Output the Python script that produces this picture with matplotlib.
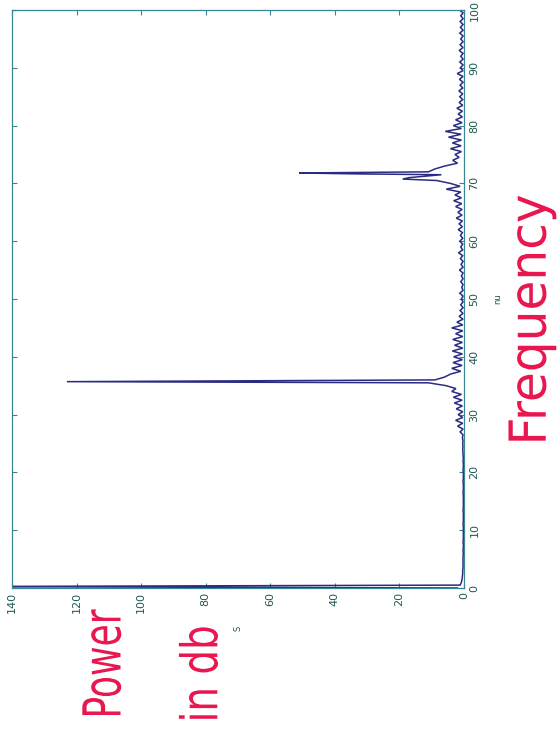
import numpy as np
import matplotlib
matplotlib.use("Agg")
import matplotlib.pyplot as plt
from matplotlib.patheffects import AbstractPathEffect
from matplotlib.transforms import Affine2D

# Power spectrum sampled every 0.5 in nu (0 .. 100), values in dB
nu_step = 0.5
noise_db = [
    # nu 0 - 9.5
    2.0, 1.2, 0.8, 0.6, 0.5, 0.4, 0.4, 0.3, 0.3, 0.3, 0.3, 0.3, 0.2, 0.3, 0.2, 0.2, 0.3, 0.2, 0.2, 0.2,
    # nu 10 - 19.5
    0.2, 0.2, 0.3, 0.2, 0.2, 0.2, 0.2, 0.3, 0.2, 0.2, 0.2, 0.2, 0.2, 0.3, 0.2, 0.2, 0.2, 0.3, 0.2, 0.2,
    # nu 20 - 29.5
    0.2, 0.3, 0.2, 0.2, 0.3, 0.2, 0.3, 0.3, 0.4, 0.3, 0.4, 0.3, 0.5, 0.3, 1.2, 0.3, 2.0, 0.4, 2.6, 0.4,
    # nu 30 - 39.5
    1.8, 0.4, 2.4, 0.5, 3.0, 0.6, 3.3, 0.8, 3.8, 2.5, 5.5, 11.0, 9.0, 6.0, 4.2, 1.0, 3.8, 0.6, 3.4, 0.5,
    # nu 40 - 49.5
    3.2, 0.5, 3.6, 0.4, 2.9, 0.5, 3.5, 0.4, 2.6, 0.4, 3.8, 0.4, 2.2, 0.3, 1.5, 0.3, 1.2, 0.3, 1.0, 0.3,
    # nu 50 - 59.5
    0.8, 0.3, 1.3, 0.3, 0.7, 0.3, 1.0, 0.3, 0.8, 0.3, 1.4, 0.3, 0.9, 0.3, 1.1, 0.4, 1.7, 0.4, 1.0, 0.4,
    # nu 60 - 69.5
    1.3, 0.4, 1.1, 0.5, 1.8, 0.5, 1.5, 0.5, 2.4, 0.6, 1.9, 0.6, 2.6, 0.7, 3.2, 0.8, 2.8, 1.0, 5.5, 1.2,
    # nu 70 - 79.5
    4.2, 8.5, 17.0, 7.0, 11.0, 9.0, 6.0, 2.0, 3.5, 1.5, 2.8, 0.8, 4.2, 0.9, 3.6, 0.8, 4.8, 0.9, 5.8, 0.8,
    # nu 80 - 89.5
    3.3, 0.6, 2.6, 0.5, 1.8, 0.5, 2.2, 0.4, 1.5, 0.4, 1.3, 0.4, 1.6, 0.4, 1.2, 0.3, 1.4, 0.3, 2.1, 0.3,
    # nu 90 - 100
    1.1, 0.3, 1.3, 0.3, 1.0, 0.3, 1.5, 0.3, 1.2, 0.3, 1.0, 0.3, 1.3, 0.3, 1.1, 0.3, 1.2, 0.3, 1.0, 0.3, 1.4,
]

# Narrow spectral lines between grid samples
peak_nu = [0.25, 35.7, 70.75, 71.65, 71.8]
peak_db = [160.0, 123.0, 19.0, 34.0, 51.0]

power_ticks = [0, 20, 40, 60, 80, 100, 120, 140]
nu_ticks = [0, 10, 20, 30, 40, 50, 60, 70, 80, 90, 100]

grid_nu = np.arange(len(noise_db)) * nu_step
all_nu = np.concatenate([grid_nu, peak_nu])
all_db = np.concatenate([noise_db, peak_db])
order = np.argsort(all_nu, kind="stable")
all_nu = all_nu[order]
all_db = all_db[order]

W, H = 558, 731
fig = plt.figure(figsize=(W / 100, H / 100), dpi=100)
fig.patch.set_facecolor("white")

frame_col = "#3a8596"
label_col = "#1d5a52"
trace_col = "#2a2c82"

ax = fig.add_axes([12 / W, 1 - 588 / H, (464 - 12) / W, (588 - 10) / H])
ax.plot(all_db, all_nu, color=trace_col, lw=1.1, solid_joinstyle="miter")
ax.set_xlim(140, 0)
ax.set_ylim(0, 100)

ax.set_xticks(power_ticks)
ax.set_yticks(nu_ticks)
ax.yaxis.tick_right()
ax.tick_params(axis="both", which="both", direction="in", length=3.5, width=0.8,
               color=frame_col, labelcolor=label_col, labelsize=8,
               top=True, bottom=True, left=True, right=True,
               labelleft=False, labelright=True, labelbottom=True)
for lbl in ax.get_xticklabels():
    lbl.set_rotation(90)
    lbl.set_va("top")
    lbl.set_ha("center")
for lbl in ax.get_yticklabels():
    lbl.set_rotation(90)
    lbl.set_va("center")
    lbl.set_ha("left")
ax.tick_params(axis="x", pad=3)
ax.tick_params(axis="y", pad=4)
for sp in ax.spines.values():
    sp.set_color(frame_col)
    sp.set_linewidth(0.9)

ax.yaxis.set_label_position("right")
ax.set_ylabel("nu", rotation=90, fontsize=6, color=label_col, labelpad=16, va="bottom")
ax.set_xlabel("S", rotation=90, fontsize=6, color=label_col, labelpad=9)


class Stretch(AbstractPathEffect):
    """Scale glyph outlines about a fixed display point."""

    def __init__(self, sx, sy, anchor):
        super().__init__()
        self._sx, self._sy = sx, sy
        self._anchor = anchor

    def draw_path(self, renderer, gc, tpath, affine, rgbFace=None):
        cx, cy = fig.transFigure.transform(self._anchor)
        t = affine + Affine2D().translate(-cx, -cy).scale(self._sx, self._sy).translate(cx, cy)
        renderer.draw_path(gc, tpath, t, rgbFace)


red = "#e8174f"


def note(text, px, py, size, sx):
    anchor = (px / W, 1 - py / H)
    fig.text(anchor[0], anchor[1], text, rotation=90, ha="center", va="center",
             fontsize=size, color=red, family="DejaVu Sans",
             path_effects=[Stretch(sx, 1.0, anchor)])


note("Power", 106, 664, 26, 1.45)
note("in db", 203, 674, 28, 1.3)
note("Frequency", 531, 320, 35, 1.05)

fig.savefig("out.png", dpi=100, facecolor="white")
